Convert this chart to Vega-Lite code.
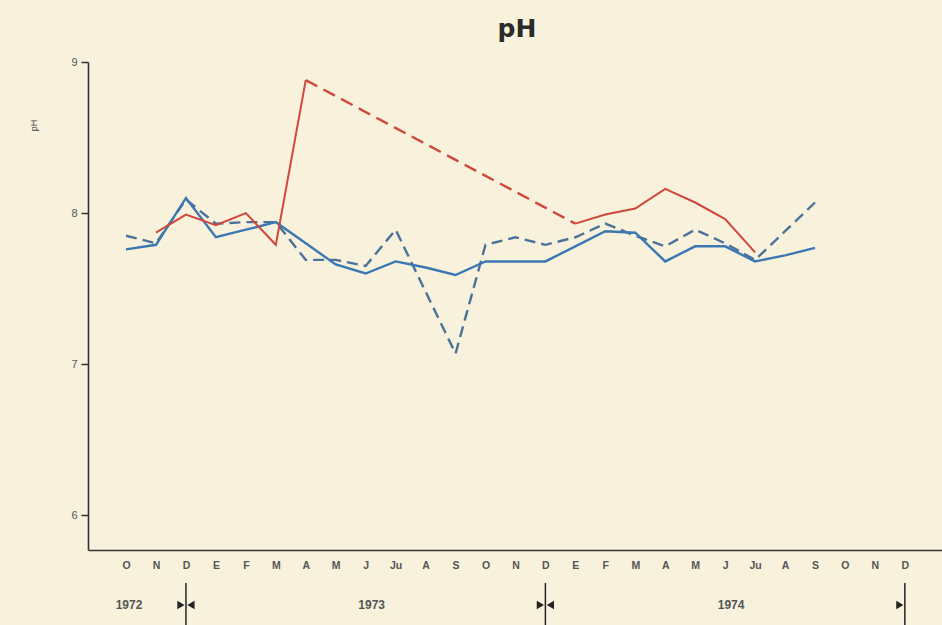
{
  "$schema": "https://vega.github.io/schema/vega-lite/v6.json",
  "width": 854,
  "height": 488,
  "autosize": {"type": "none"},
  "padding": {"left": 88, "top": 62, "right": 0, "bottom": 75},
  "background": "#f8f2dc",
  "config": {
    "view": {"stroke": null},
    "font": "Liberation Sans",
    "axis": {"labelOverlap": false},
    "axisX": {"labelOverlap": false}
  },
  "title": {
    "text": "pH",
    "fontSize": 25,
    "fontWeight": "bold",
    "color": "#2a2a2a",
    "font": "DejaVu Sans",
    "offset": 14,
    "dx": 2
  },
  "datasets": {
    "series": [
      {"idx": 0, "month": "O", "series": "blue solid", "ph": 7.76},
      {"idx": 1, "month": "N", "series": "blue solid", "ph": 7.79},
      {"idx": 2, "month": "D", "series": "blue solid", "ph": 8.1},
      {"idx": 3, "month": "E", "series": "blue solid", "ph": 7.84},
      {"idx": 4, "month": "F", "series": "blue solid", "ph": 7.89},
      {"idx": 5, "month": "M", "series": "blue solid", "ph": 7.94},
      {"idx": 6, "month": "A", "series": "blue solid", "ph": 7.8},
      {"idx": 7, "month": "M", "series": "blue solid", "ph": 7.66},
      {"idx": 8, "month": "J", "series": "blue solid", "ph": 7.6},
      {"idx": 9, "month": "Ju", "series": "blue solid", "ph": 7.68},
      {"idx": 10, "month": "A", "series": "blue solid", "ph": 7.64},
      {"idx": 11, "month": "S", "series": "blue solid", "ph": 7.59},
      {"idx": 12, "month": "O", "series": "blue solid", "ph": 7.68},
      {"idx": 13, "month": "N", "series": "blue solid", "ph": 7.68},
      {"idx": 14, "month": "D", "series": "blue solid", "ph": 7.68},
      {"idx": 15, "month": "E", "series": "blue solid", "ph": 7.78},
      {"idx": 16, "month": "F", "series": "blue solid", "ph": 7.88},
      {"idx": 17, "month": "M", "series": "blue solid", "ph": 7.87},
      {"idx": 18, "month": "A", "series": "blue solid", "ph": 7.68},
      {"idx": 19, "month": "M", "series": "blue solid", "ph": 7.78},
      {"idx": 20, "month": "J", "series": "blue solid", "ph": 7.78},
      {"idx": 21, "month": "Ju", "series": "blue solid", "ph": 7.68},
      {"idx": 22, "month": "A", "series": "blue solid", "ph": 7.72},
      {"idx": 23, "month": "S", "series": "blue solid", "ph": 7.77},
      {"idx": 0, "month": "O", "series": "blue dashed", "ph": 7.85},
      {"idx": 1, "month": "N", "series": "blue dashed", "ph": 7.8},
      {"idx": 2, "month": "D", "series": "blue dashed", "ph": 8.09},
      {"idx": 3, "month": "E", "series": "blue dashed", "ph": 7.93},
      {"idx": 4, "month": "F", "series": "blue dashed", "ph": 7.94},
      {"idx": 5, "month": "M", "series": "blue dashed", "ph": 7.94},
      {"idx": 6, "month": "A", "series": "blue dashed", "ph": 7.69},
      {"idx": 7, "month": "M", "series": "blue dashed", "ph": 7.69},
      {"idx": 8, "month": "J", "series": "blue dashed", "ph": 7.65},
      {"idx": 9, "month": "Ju", "series": "blue dashed", "ph": 7.89},
      {"idx": 10, "month": "A", "series": "blue dashed", "ph": 7.48},
      {"idx": 11, "month": "S", "series": "blue dashed", "ph": 7.07},
      {"idx": 12, "month": "O", "series": "blue dashed", "ph": 7.79},
      {"idx": 13, "month": "N", "series": "blue dashed", "ph": 7.84},
      {"idx": 14, "month": "D", "series": "blue dashed", "ph": 7.79},
      {"idx": 15, "month": "E", "series": "blue dashed", "ph": 7.84},
      {"idx": 16, "month": "F", "series": "blue dashed", "ph": 7.93},
      {"idx": 17, "month": "M", "series": "blue dashed", "ph": 7.85},
      {"idx": 18, "month": "A", "series": "blue dashed", "ph": 7.78},
      {"idx": 19, "month": "M", "series": "blue dashed", "ph": 7.89},
      {"idx": 20, "month": "J", "series": "blue dashed", "ph": 7.8},
      {"idx": 21, "month": "Ju", "series": "blue dashed", "ph": 7.69},
      {"idx": 22, "month": "A", "series": "blue dashed", "ph": 7.88},
      {"idx": 23, "month": "S", "series": "blue dashed", "ph": 8.07},
      {"idx": 1, "month": "N", "series": "red a", "ph": 7.87},
      {"idx": 2, "month": "D", "series": "red a", "ph": 7.99},
      {"idx": 3, "month": "E", "series": "red a", "ph": 7.92},
      {"idx": 4, "month": "F", "series": "red a", "ph": 8.0},
      {"idx": 5, "month": "M", "series": "red a", "ph": 7.79},
      {"idx": 6, "month": "A", "series": "red a", "ph": 8.88},
      {"idx": 15, "month": "E", "series": "red b", "ph": 7.93},
      {"idx": 16, "month": "F", "series": "red b", "ph": 7.99},
      {"idx": 17, "month": "M", "series": "red b", "ph": 8.03},
      {"idx": 18, "month": "A", "series": "red b", "ph": 8.16},
      {"idx": 19, "month": "M", "series": "red b", "ph": 8.07},
      {"idx": 20, "month": "J", "series": "red b", "ph": 7.96},
      {"idx": 21, "month": "Ju", "series": "red b", "ph": 7.74}
    ],
    "gap": [
      {"idx": 6, "ph": 8.88},
      {"idx": 15, "ph": 7.93}
    ],
    "years": [
      {"idx": 0.1, "label": "1972"},
      {"idx": 8.2, "label": "1973"},
      {"idx": 20.2, "label": "1974"}
    ],
    "marks": [
      {"idx": 2, "left": true, "right": true},
      {"idx": 14, "left": true, "right": true},
      {"idx": 26, "left": true, "right": false}
    ]
  },
  "layer": [
    {
      "data": {"name": "series"},
      "transform": [{"filter": "datum.series === 'blue dashed'"}],
      "mark": {"type": "line", "color": "#4c7298", "strokeWidth": 2.4, "strokeDash": [11, 6]},
      "encoding": {
        "x": {
          "field": "idx",
          "type": "quantitative",
          "scale": {"domain": [-1.27, 27.24], "nice": false, "zero": false},
          "axis": {
            "title": null,
            "values": [0,1,2,3,4,5,6,7,8,9,10,11,12,13,14,15,16,17,18,19,20,21,22,23,24,25,26],
            "tickCount": 27,
            "labelExpr": "['O','N','D','E','F','M','A','M','J','Ju','A','S','O','N','D','E','F','M','A','M','J','Ju','A','S','O','N','D'][datum.value]",
            "labelOverlap": false,
            "labelSeparation": 0,
            "labelBound": false,
            "labelFlush": false,
            "ticks": false,
            "grid": false,
            "domainColor": "#333",
            "domainWidth": 1.6,
            "labelFontSize": 10.5,
            "labelFontWeight": "bold",
            "labelColor": "#555",
            "labelPadding": 10
          }
        },
        "y": {
          "field": "ph",
          "type": "quantitative",
          "scale": {"domain": [5.77, 9], "nice": false, "zero": false},
          "axis": {
            "title": "pH",
            "titleFontSize": 9,
            "titleFontWeight": "normal",
            "titleColor": "#444",
            "titleX": -50,
            "titleY": 63,
            "values": [6, 7, 8, 9],
            "format": "d",
            "grid": false,
            "tickColor": "#333",
            "tickSize": 7,
            "tickWidth": 1.5,
            "domainColor": "#333",
            "domainWidth": 1.6,
            "labelFontSize": 11,
            "labelColor": "#555",
            "labelPadding": 4
          }
        },
        "order": {"field": "idx"}
      }
    },
    {
      "data": {"name": "series"},
      "transform": [{"filter": "datum.series === 'blue solid'"}],
      "mark": {"type": "line", "color": "#3b78b2", "strokeWidth": 2.4},
      "encoding": {
        "x": {"field": "idx", "type": "quantitative"},
        "y": {"field": "ph", "type": "quantitative"},
        "order": {"field": "idx"}
      }
    },
    {
      "data": {"name": "series"},
      "transform": [{"filter": "datum.series === 'red a' || datum.series === 'red b'"}],
      "mark": {"type": "line", "color": "#d0473c", "strokeWidth": 2},
      "encoding": {
        "x": {"field": "idx", "type": "quantitative"},
        "y": {"field": "ph", "type": "quantitative"},
        "detail": {"field": "series"},
        "order": {"field": "idx"}
      }
    },
    {
      "data": {"name": "gap"},
      "mark": {"type": "line", "color": "#d0473c", "strokeWidth": 2.4, "strokeDash": [13, 7]},
      "encoding": {
        "x": {"field": "idx", "type": "quantitative"},
        "y": {"field": "ph", "type": "quantitative"}
      }
    },
    {
      "data": {"name": "years"},
      "mark": {"type": "text", "fontSize": 12, "fontWeight": "bold", "color": "#555", "align": "center", "baseline": "middle", "y": 543},
      "encoding": {
        "x": {"field": "idx", "type": "quantitative"},
        "text": {"field": "label"}
      }
    },
    {
      "data": {"name": "marks"},
      "mark": {"type": "rule", "color": "#222", "strokeWidth": 1.5, "y": 521, "y2": 563},
      "encoding": {
        "x": {"field": "idx", "type": "quantitative"}
      }
    },
    {
      "data": {"name": "marks"},
      "transform": [{"filter": "datum.left"}],
      "mark": {"type": "point", "shape": "triangle-right", "filled": true, "color": "#222", "size": 70, "opacity": 1, "y": 543, "xOffset": -5},
      "encoding": {
        "x": {"field": "idx", "type": "quantitative"}
      }
    },
    {
      "data": {"name": "marks"},
      "transform": [{"filter": "datum.right"}],
      "mark": {"type": "point", "shape": "triangle-left", "filled": true, "color": "#222", "size": 70, "opacity": 1, "y": 543, "xOffset": 5},
      "encoding": {
        "x": {"field": "idx", "type": "quantitative"}
      }
    }
  ]
}
